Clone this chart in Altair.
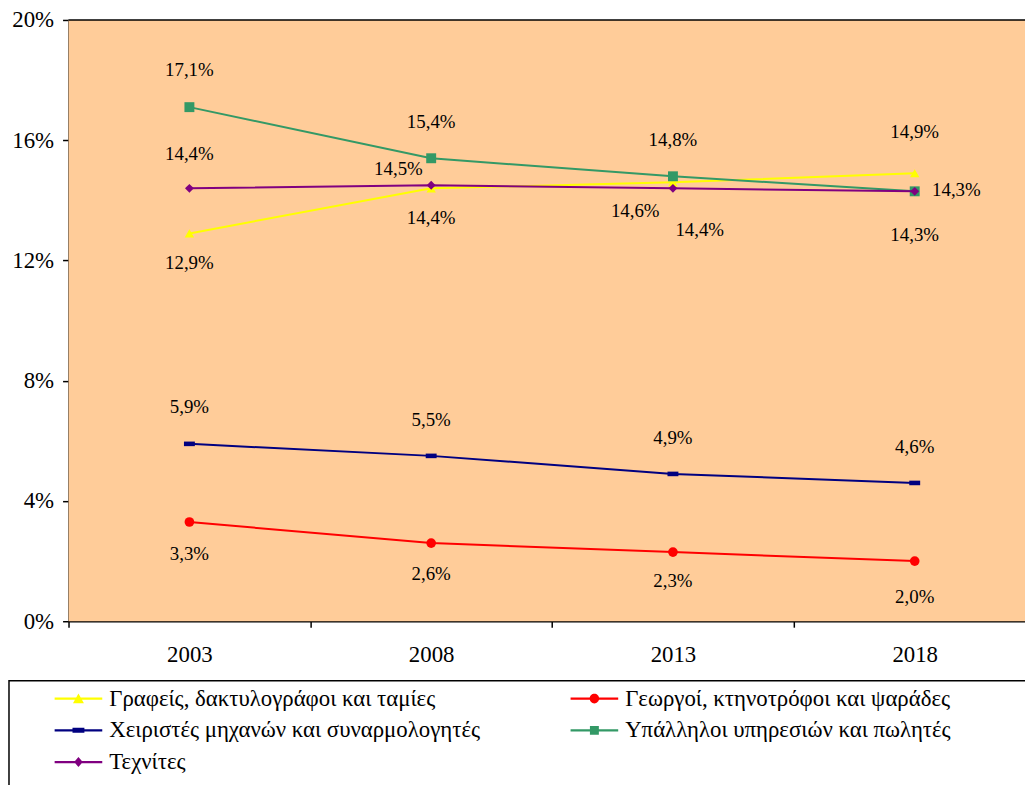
import altair as alt
import pandas as pd

# ---------------- data ----------------
years = [2003, 2008, 2013, 2018]
series = [
    "Γραφείς, δακτυλογράφοι και ταμίες",
    "Γεωργοί, κτηνοτρόφοι και ψαράδες",
    "Χειριστές μηχανών και συναρμολογητές",
    "Υπάλληλοι υπηρεσιών και πωλητές",
    "Τεχνίτες",
]
grafeis = [12.9, 14.4, 14.6, 14.9]
georgoi = [3.3, 2.6, 2.3, 2.0]
xeiristes = [5.9, 5.5, 4.9, 4.6]
ypalliloi = [17.1, 15.4, 14.8, 14.3]
texnites = [14.4, 14.5, 14.4, 14.3]
y_ticks = [0, 4, 8, 12, 16, 20]

# ---------------- styles ----------------
colors = ["#FFFF00", "#FF0000", "#000080", "#339966", "#800080"]
blue_rect = "M-1,-0.42L1,-0.42L1,0.42L-1,0.42Z"
markers = ["triangle-up", "circle", blue_rect, "square", "diamond"]
marker_sizes = [90, 95, 121, 100, 80]
plot_bg = "#FFCC99"

# label offsets in pixels (dx, dy) for each series / year
label_offsets = [
    [(0, 30), (0, 30), (-38, 29), (0, -42)],
    [(0, 32), (0, 31), (0, 29), (0, 36)],
    [(0, -37), (0, -36), (0, -36), (0, -36)],
    [(0, -37), (0, -36), (0, -37), (42, -1)],
    [(0, -35), (-33, -16), (27, 42), (0, 44)],
]

# legend symbols: line + marker (units of 12 px, x from -1 to 3)
line_part = "M-1,-0.085L3,-0.085L3,0.085L-1,0.085Z"
legend_markers = [
    "M1,-0.42L1.46,0.38L0.54,0.38Z",
    "M0.6,0a0.4,0.4 0 1,1 0.8,0a0.4,0.4 0 1,1 -0.8,0Z",
    "M0.5,-0.21L1.5,-0.21L1.5,0.21L0.5,0.21Z",
    "M0.625,-0.375L1.375,-0.375L1.375,0.375L0.625,0.375Z",
    "M1,-0.42L1.36,0L1,0.42L0.64,0Z",
]
legend_paths = [line_part + m for m in legend_markers]
# legend is filled column by column: 3 rows in first column
legend_order = [0, 2, 4, 1, 3]

W, H = 964, 606
band_px = 243.67
px_per_year = band_px / 5.0
px_per_pct = H / 20.0
x_min = 2000.5
x_max = x_min + W / px_per_year
x_axis_values = sorted(years + [2000.5, 2005.5, 2010.5, 2015.5])

FONT = "Liberation Serif, Times New Roman, DejaVu Serif, serif"

values = [grafeis, georgoi, xeiristes, ypalliloi, texnites]
rows = []
for si, (name, vals) in enumerate(zip(series, values)):
    for yi, (yr, v) in enumerate(zip(years, vals)):
        dx, dy = label_offsets[si][yi]
        rows.append({
            "series": name,
            "year": yr,
            "value": v,
            "label": f"{v:.1f}".replace(".", ",") + "%",
            "lx": yr + dx / px_per_year,
            "ly": v - dy / px_per_pct,
        })
df = pd.DataFrame(rows)

xscale = alt.Scale(domain=[x_min, x_max], nice=False, zero=False)
yscale = alt.Scale(domain=[0, 20], nice=False, zero=True)

axis_common = dict(
    domainColor="black", domainWidth=1.6, tickColor="black", tickWidth=1.5,
    labelFont=FONT, labelColor="black", labelFontSize=23, grid=False, title=None,
)

x_axis = alt.Axis(
    orient="bottom",
    values=x_axis_values,
    labelExpr="datum.value % 1 == 0 ? format(datum.value, 'd') : ''",
    tickOpacity={"condition": {"test": "datum.value % 1 == 0", "value": 0}, "value": 1},
    tickSize=6, labelPadding=17, **axis_common,
)
y_axis = alt.Axis(orient="left", values=y_ticks, labelExpr="datum.value + '%'", tickSize=6,
                  labelPadding=9, **axis_common)

one = pd.DataFrame({"a": [0]})

# plot-area background (through the scales), carries the axes
background = alt.Chart(one).mark_rect(color=plot_bg).encode(
    x=alt.X(datum=x_min, type="quantitative", scale=xscale, axis=x_axis),
    x2=alt.X2(datum=x_max),
    y=alt.Y(datum=0, type="quantitative", scale=yscale, axis=y_axis),
    y2=alt.Y2(datum=20),
)

layers = [background]
for si, name in enumerate(series):
    base = alt.Chart(df).transform_filter(alt.datum.series == name)
    ln = base.mark_line(strokeWidth=2, color=colors[si]).encode(
        x=alt.X("year:Q", scale=xscale, axis=None),
        y=alt.Y("value:Q", scale=yscale, axis=None),
        order=alt.Order("year:Q"),
    )
    pt = base.mark_point(filled=True, opacity=1, color=colors[si], shape=markers[si],
                         size=marker_sizes[si]).encode(
        x=alt.X("year:Q", scale=xscale, axis=None),
        y=alt.Y("value:Q", scale=yscale, axis=None),
    )
    layers += [ln, pt]

labels = alt.Chart(df).mark_text(font=FONT, fontSize=19, color="black",
                                 align="center", baseline="middle").encode(
    x=alt.X("lx:Q", scale=xscale, axis=None),
    y=alt.Y("ly:Q", scale=yscale, axis=None),
    text="label:N",
)

legend_def = alt.Legend(
    orient="none", legendX=-14, legendY=672, columns=2, title=None,
    labelFont=FONT, labelFontSize=23, labelColor="black", labelLimit=700,
    symbolSize=576, labelOffset=31, columnPadding=91, rowPadding=8,
    symbolStrokeWidth=0, padding=0, symbolOpacity=1,
)

leg_domain = [series[i] for i in legend_order]
leg_colors = [colors[i] for i in legend_order]
leg_paths = [legend_paths[i] for i in legend_order]

legend_layer = alt.Chart(df).mark_point(filled=True, opacity=1).transform_filter("false").encode(
    color=alt.Color("series:N", scale=alt.Scale(domain=leg_domain, range=leg_colors), legend=legend_def),
    shape=alt.Shape("series:N", scale=alt.Scale(domain=leg_domain, range=leg_paths), legend=legend_def),
)

top_border = alt.Chart(one).mark_rule(color="black", strokeWidth=1.5).encode(
    x=alt.value(0), x2=alt.value(W + 10), y=alt.value(0)
)
legend_frame = alt.Chart(one).mark_rect(fillOpacity=0, stroke="black", strokeWidth=1.5).encode(
    x=alt.value(-60), x2=alt.value(W + 60), y=alt.value(666), y2=alt.value(H + 300)
)

chart = alt.layer(
    *layers, labels, legend_layer, top_border, legend_frame
).resolve_axis(x="independent", y="independent").properties(
    width=W, height=H,
    autosize=alt.AutoSizeParams(type="none"),
    padding={"left": 61, "top": 9, "right": 0, "bottom": 162},
    background="white",
).configure_view(fill=plot_bg, stroke=None)

chart.save("out.html", embed_options={"renderer": "svg", "actions": False})
